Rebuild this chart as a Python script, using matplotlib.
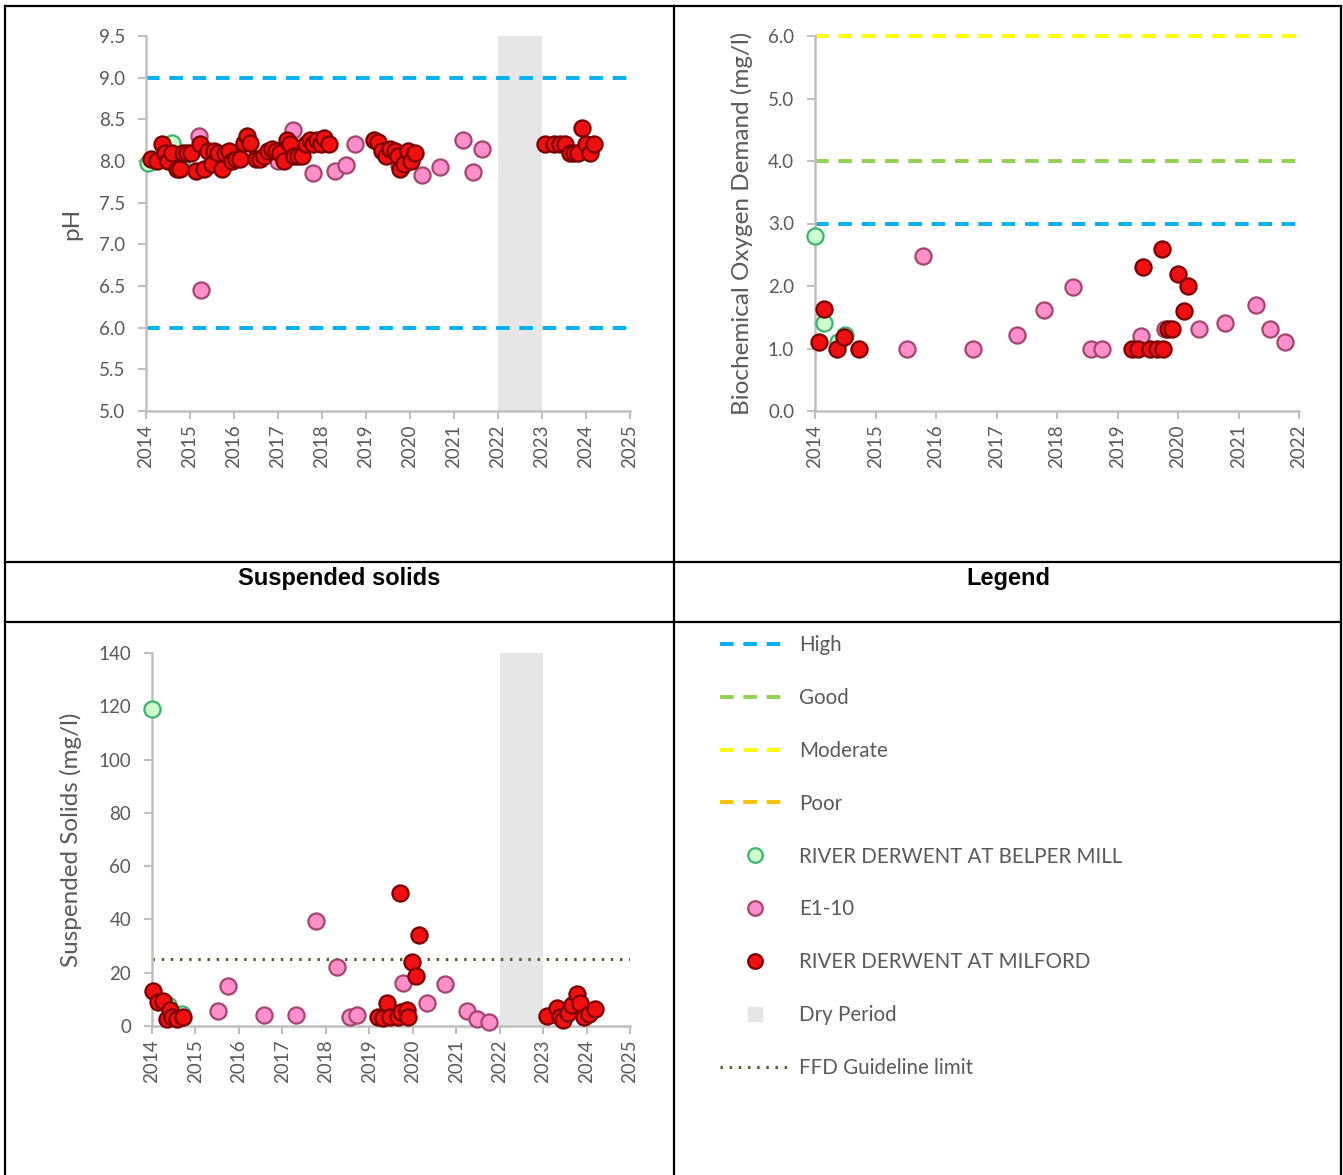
import matplotlib
matplotlib.use('Agg')
import matplotlib.pyplot as plt
from matplotlib.lines import Line2D

# ---------------------------- data ----------------------------
# pH
ph_belper_t = [2014.05, 2014.6, 2014.8]
ph_belper_v = [7.98, 8.22, 7.98]
ph_e110_t = [2015.2, 2015.25, 2016.2, 2016.9, 2017.0, 2017.33, 2017.8, 2018.3, 2018.55, 2018.75,
             2019.75, 2020.27, 2020.68, 2021.2, 2021.43, 2021.64]
ph_e110_v = [8.3, 6.45, 8.15, 8.12, 8.0, 8.37, 7.86, 7.88, 7.95, 8.2,
             7.95, 7.83, 7.93, 8.25, 7.87, 8.15]
ph_milford_t = [2014.11, 2014.25, 2014.36, 2014.43, 2014.5, 2014.59, 2014.7, 2014.77, 2014.84, 2014.93,
                2015.02, 2015.14, 2015.23, 2015.32, 2015.41, 2015.5, 2015.55, 2015.64, 2015.73, 2015.8,
                2015.89, 2015.95, 2016.05, 2016.14, 2016.23, 2016.3, 2016.36, 2016.5, 2016.59, 2016.68,
                2016.77, 2016.86, 2016.95, 2017.05, 2017.14, 2017.2, 2017.27, 2017.36, 2017.45, 2017.55,
                2017.64, 2017.73, 2017.8, 2017.89, 2017.98, 2018.05, 2018.16,
                2019.18, 2019.27, 2019.36, 2019.45, 2019.55, 2019.66, 2019.73, 2019.77, 2019.86, 2019.95,
                2020.02, 2020.11,
                2023.07, 2023.27, 2023.41, 2023.52, 2023.64, 2023.73, 2023.82, 2023.91, 2024.0, 2024.09,
                2024.18]
ph_milford_v = [8.02, 8.0, 8.2, 8.1, 8.0, 8.1, 7.9, 7.9, 8.1, 8.1,
                8.1, 7.88, 8.2, 7.9, 8.12, 7.97, 8.12, 8.1, 7.9, 8.1,
                8.12, 8.0, 8.03, 8.03, 8.22, 8.3, 8.22, 8.03, 8.03, 8.06,
                8.12, 8.15, 8.12, 8.1, 8.0, 8.25, 8.2, 8.06, 8.06, 8.06,
                8.2, 8.25, 8.2, 8.25, 8.2, 8.28, 8.2,
                8.25, 8.23, 8.12, 8.06, 8.15, 8.12, 8.06, 7.9, 7.97, 8.12,
                8.0, 8.1,
                8.2, 8.2, 8.2, 8.2, 8.1, 8.1, 8.1, 8.4, 8.2, 8.1,
                8.2]

# Biochemical Oxygen Demand
bod_belper_t = [2014.0, 2014.15, 2014.38, 2014.5]
bod_belper_v = [2.8, 1.41, 1.1, 1.22]
bod_e110_t = [2015.52, 2015.79, 2016.61, 2017.34, 2017.79, 2018.26, 2018.56, 2018.74, 2019.39, 2019.79,
              2020.35, 2020.78, 2021.29, 2021.52, 2021.77]
bod_e110_v = [1.0, 2.48, 1.0, 1.22, 1.62, 1.98, 1.0, 1.0, 1.2, 1.31,
              1.31, 1.41, 1.7, 1.31, 1.1]
bod_milford_t = [2014.07, 2014.15, 2014.36, 2014.48, 2014.73,
                 2019.24, 2019.34, 2019.42, 2019.54, 2019.65, 2019.75, 2019.74, 2019.83, 2019.9,
                 2020.0, 2020.1, 2020.17]
bod_milford_v = [1.1, 1.63, 1.0, 1.18, 1.0,
                 1.0, 1.0, 2.3, 1.0, 1.0, 1.0, 2.6, 1.31, 1.31,
                 2.2, 1.6, 2.0]

# Suspended solids
ss_belper_t = [2014.0, 2014.37, 2014.7]
ss_belper_v = [119, 8, 4.5]
ss_e110_t = [2015.52, 2015.75, 2016.57, 2017.31, 2017.77, 2018.25, 2018.55, 2018.71, 2019.77, 2020.32,
             2020.74, 2021.24, 2021.47, 2021.75]
ss_e110_v = [5.6, 15, 4.2, 4.2, 39.4, 22.2, 3.4, 4.2, 16, 8.6,
             15.8, 5.6, 2.7, 1.6]
ss_milford_t = [2014.02, 2014.14, 2014.25, 2014.34, 2014.41, 2014.46, 2014.57, 2014.71,
                2019.2, 2019.31, 2019.4, 2019.47, 2019.66, 2019.7, 2019.72, 2019.86, 2019.89,
                2019.98, 2020.07, 2020.14,
                2023.08, 2023.31, 2023.38, 2023.45, 2023.57, 2023.66, 2023.77, 2023.86, 2023.95,
                2024.05, 2024.2]
ss_milford_v = [13, 9, 9.5, 2.7, 6, 3.5, 2.7, 3.5,
                3.4, 3, 8.6, 3.4, 3.4, 50, 5.3, 6, 3.4,
                24, 18.6, 34,
                3.8, 6.7, 3.4, 2.2, 4.9, 7.9, 12, 8.6, 3.4,
                4.5, 6.4]

ph_limits = [9.0, 6.0]
bod_limits = {'High': 3.0, 'Good': 4.0, 'Moderate': 6.0}
ffd_limit = 25
dry_period = (2022, 2023)

# ---------------------------- style ----------------------------
plt.rcParams['font.family'] = ['Lato', 'DejaVu Sans']
TXT = '#595959'
AXC = '#BFBFBF'
C_HIGH = '#00B0F0'
C_GOOD = '#92D050'
C_MOD = '#FFFF00'
C_POOR = '#FFC000'
C_DRY = '#E6E6E6'
C_FFD = '#4F6228'
DASH = (0, (3.5, 2.5))
DOTS = (0, (0.8, 2.2))

SERIES = [
    ('RIVER DERWENT AT BELPER MILL', '#CCFFCC', '#3CB371'),
    ('E1-10', '#FF8FCB', '#A3456F'),
    ('RIVER DERWENT AT MILFORD', '#F01010', '#7A0000'),
]
MS = 135

W, H = 1343, 1175
fig = plt.figure(figsize=(W / 100, H / 100), dpi=100)


def px_axes(l, t, r, b):
    return fig.add_axes([l / W, 1 - b / H, (r - l) / W, (b - t) / H])


def style_axes(ax, xlim, years, ylim, yticks, yfmt, ylabel, labelpad):
    ax.set_xlim(*xlim)
    ax.set_ylim(*ylim)
    ax.set_xticks(years)
    ax.set_xticklabels([str(y) for y in years], rotation=90)
    ax.set_yticks(yticks)
    ax.set_yticklabels([yfmt.format(v) for v in yticks])
    for s in ['top', 'right']:
        ax.spines[s].set_visible(False)
    for s in ['left', 'bottom']:
        ax.spines[s].set_color(AXC)
        ax.spines[s].set_linewidth(1.8)
    ax.tick_params(axis='both', colors=AXC, labelcolor=TXT, labelsize=13.5,
                   length=6, width=1.5, direction='out')
    ax.tick_params(axis='y', pad=9)
    ax.set_ylabel(ylabel, color=TXT, fontsize=17.5, labelpad=labelpad)


def draw_points(ax, data):
    for (name, fc, ec), (t, v) in zip(SERIES, data):
        ax.scatter(t, v, s=MS, facecolor=fc, edgecolor=ec, linewidth=1.6, zorder=3, clip_on=False)


# ---- pH ----
ax1 = px_axes(146, 36, 630, 411)
ax1.axvspan(*dry_period, color=C_DRY, lw=0, zorder=0)
for lim in ph_limits:
    ax1.axhline(lim, color=C_HIGH, lw=2.8, ls=DASH, zorder=1)
draw_points(ax1, [(ph_belper_t, ph_belper_v), (ph_e110_t, ph_e110_v), (ph_milford_t, ph_milford_v)])
style_axes(ax1, (2014, 2025), range(2014, 2026), (5.0, 9.5),
           [5.0 + 0.5 * i for i in range(10)], '{:.1f}', 'pH', 12)

# ---- BOD ----
ax2 = px_axes(815, 36, 1299, 411)
ax2.axhline(bod_limits['Moderate'], color=C_MOD, lw=2.8, ls=DASH, zorder=1, clip_on=False)
ax2.axhline(bod_limits['Good'], color=C_GOOD, lw=2.8, ls=DASH, zorder=1)
ax2.axhline(bod_limits['High'], color=C_HIGH, lw=2.8, ls=DASH, zorder=1)
draw_points(ax2, [(bod_belper_t, bod_belper_v), (bod_e110_t, bod_e110_v), (bod_milford_t, bod_milford_v)])
style_axes(ax2, (2014, 2022), range(2014, 2023), (0.0, 6.0),
           [0.0, 1.0, 2.0, 3.0, 4.0, 5.0, 6.0], '{:.1f}', 'Biochemical Oxygen Demand (mg/l)', 11)

# ---- Suspended solids ----
ax3 = px_axes(152, 653, 630, 1026)
ax3.axvspan(*dry_period, color=C_DRY, lw=0, zorder=0)
ax3.axhline(ffd_limit, color=C_FFD, lw=2.2, ls=DOTS, zorder=1)
draw_points(ax3, [(ss_belper_t, ss_belper_v), (ss_e110_t, ss_e110_v), (ss_milford_t, ss_milford_v)])
style_axes(ax3, (2014, 2025), range(2014, 2026), (0, 140),
           list(range(0, 141, 20)), '{:d}', 'Suspended Solids (mg/l)', 12)

# ---- table grid ----
grid = fig.add_axes([0, 0, 1, 1], zorder=-1)
grid.set_xlim(0, W)
grid.set_ylim(H, 0)
grid.axis('off')
for x in [5, 674, 1341]:
    grid.plot([x, x], [6, H], color='black', lw=1.6)
for y in [6, 562, 622]:
    grid.plot([5, 1341], [y, y], color='black', lw=1.6)
grid.text(339, 578, 'Suspended solids', ha='center', va='center', fontsize=17,
          fontweight='bold', family=['Liberation Sans', 'DejaVu Sans'])
grid.text(1008, 578, 'Legend', ha='center', va='center', fontsize=17,
          fontweight='bold', family=['Liberation Sans', 'DejaVu Sans'])

# ---- legend ----
handles = [
    Line2D([], [], color=C_HIGH, lw=2.8, ls=DASH),
    Line2D([], [], color=C_GOOD, lw=2.8, ls=DASH),
    Line2D([], [], color=C_MOD, lw=2.8, ls=DASH),
    Line2D([], [], color=C_POOR, lw=2.8, ls=DASH),
]
for name, fc, ec in SERIES:
    handles.append(Line2D([], [], ls='none', marker='o', markersize=10.5,
                          markerfacecolor=fc, markeredgecolor=ec, markeredgewidth=1.6))
handles.append(Line2D([], [], ls='none', marker='s', markersize=10,
                      markerfacecolor=C_DRY, markeredgecolor=C_DRY))
handles.append(Line2D([], [], color=C_FFD, lw=2.2, ls=DOTS))
labels = ['High', 'Good', 'Moderate', 'Poor'] + [s[0] for s in SERIES] + ['Dry Period', 'FFD Guideline limit']
leg = fig.legend(handles, labels, loc='upper left', bbox_to_anchor=(720 / W, 1 - 635 / H),
                 frameon=False, fontsize=14.8, handlelength=3.4, handletextpad=0.45,
                 labelspacing=1.6, borderpad=0, borderaxespad=0)
for t in leg.get_texts():
    t.set_color(TXT)

fig.savefig('out.png', dpi=100)
